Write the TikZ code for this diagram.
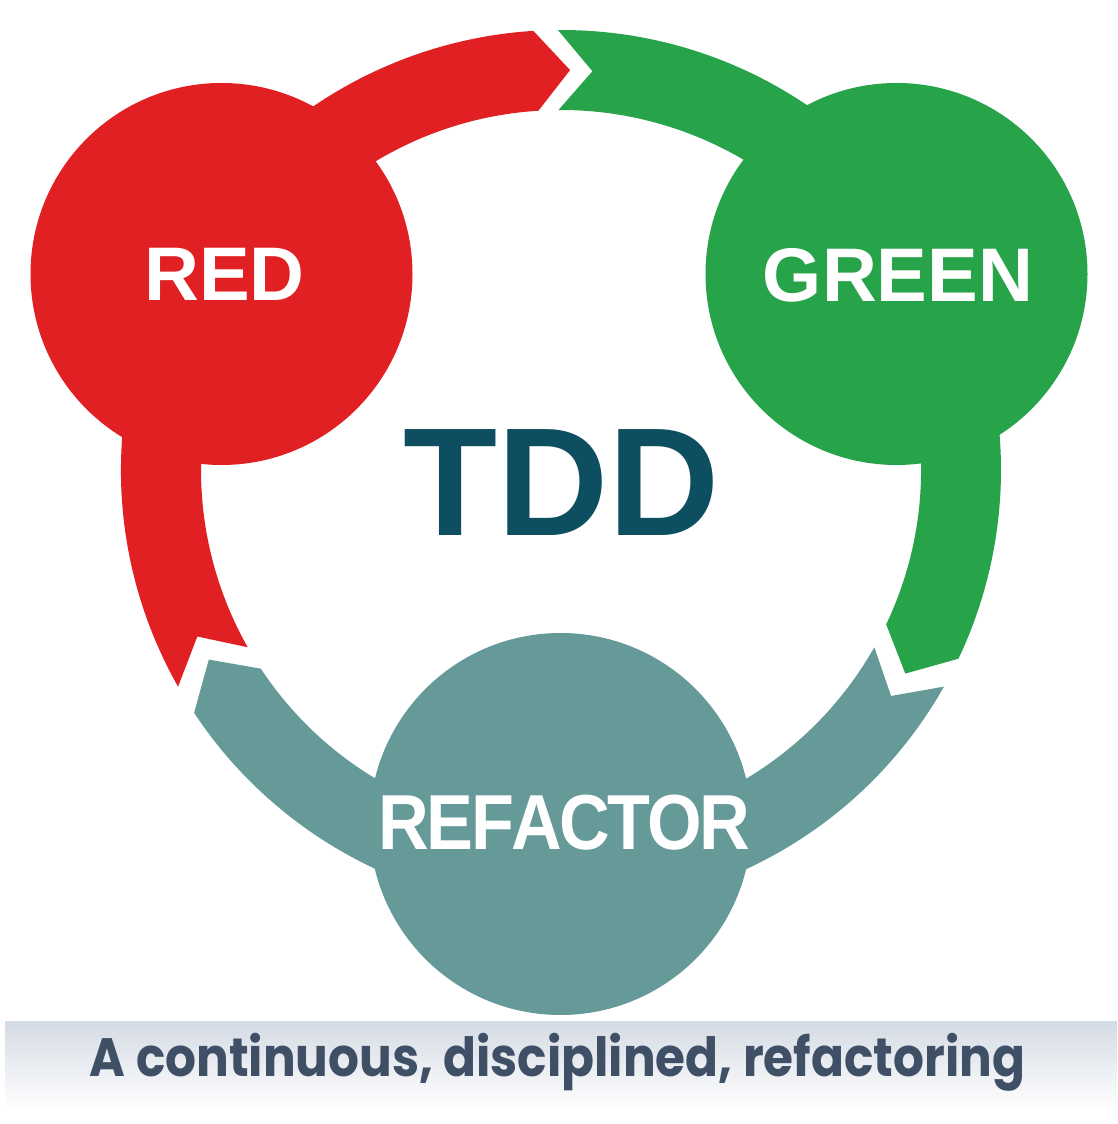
\documentclass[tikz,border=0pt]{standalone}
\usepackage{fontspec}
\usepackage{graphicx}
\setmainfont{Liberation Sans}
\newfontfamily\capfont{Poppins}
\definecolor{tddred}{HTML}{E12024}
\definecolor{tddgreen}{HTML}{27A34A}
\definecolor{tddteal}{HTML}{659A99}
\definecolor{tdddark}{HTML}{0D4E61}
\definecolor{captext}{HTML}{3E4F66}
\definecolor{capgrey}{HTML}{D5DBE4}
\begin{document}
\begin{tikzpicture}[x=1pt,y=1pt,
  disc/.style={circle,inner sep=0pt,minimum size=382pt},
  lbl/.style={text=white,inner sep=0pt,font=\bfseries\fontsize{76}{76}\selectfont}]
\useasboundingbox (0,0) rectangle (1117,1124);
\fill[white] (0,0) rectangle (1117,1124);
% ring arrows
\begin{scope}[shift={(561,654)}]
  \fill[tddred] (209.5:440) arc[start angle=209.5, end angle=93.6, radius=440]
     -- (88.7:400) -- (93.6:360) arc[start angle=93.6, end angle=209.5, radius=360]
     -- (204.6:400) -- cycle;
  \fill[tddgreen] (90.4:440) arc[start angle=90.4, end angle=-25.4, radius=440]
     -- (-30.6:400) -- (-25.4:360) arc[start angle=-25.4, end angle=90.4, radius=360]
     -- (85.5:400) -- cycle;
  \fill[tddteal] (-29.5:440) arc[start angle=-29.5, end angle=-146.5, radius=440]
     -- (-151.7:400) -- (-146.5:360) arc[start angle=-146.5, end angle=-29.5, radius=360]
     -- (-34.4:400) -- cycle;
\end{scope}
% discs
\node[disc,fill=tddred] (redc) at (221.5,850) {};
\node[disc,fill=tddgreen] (greenc) at (896.5,850) {};
\node[disc,fill=tddteal] (refc) at (560.5,300) {};
% labels
\node[lbl] (redl) at (224.5,849.5) {RED};
\node[lbl] (greenl) at (898,849) {GREEN};
\node[lbl,font=\bfseries\fontsize{78}{78}\selectfont] (refl) at (564.5,301)
  {\scalebox{0.9}[1]{R\kern-3pt E\kern-3pt F\kern-3pt A\kern-3pt C\kern-3pt T\kern-3pt O\kern-3pt R}};
\node[text=tdddark,inner sep=0pt,font=\bfseries\fontsize{154}{154}\selectfont] (tdd) at (561.5,641) {TDD};
% caption
\shade[top color=capgrey,bottom color=white] (5,14) rectangle (1117,102);
\node[anchor=base,inner sep=0pt,text=captext,font=\capfont\bfseries\fontsize{54}{54}\selectfont] (cap) at (557.5,47)
  {\resizebox{935pt}{\height}{A continuous, disciplined, refactoring}};
\end{tikzpicture}
\end{document}
